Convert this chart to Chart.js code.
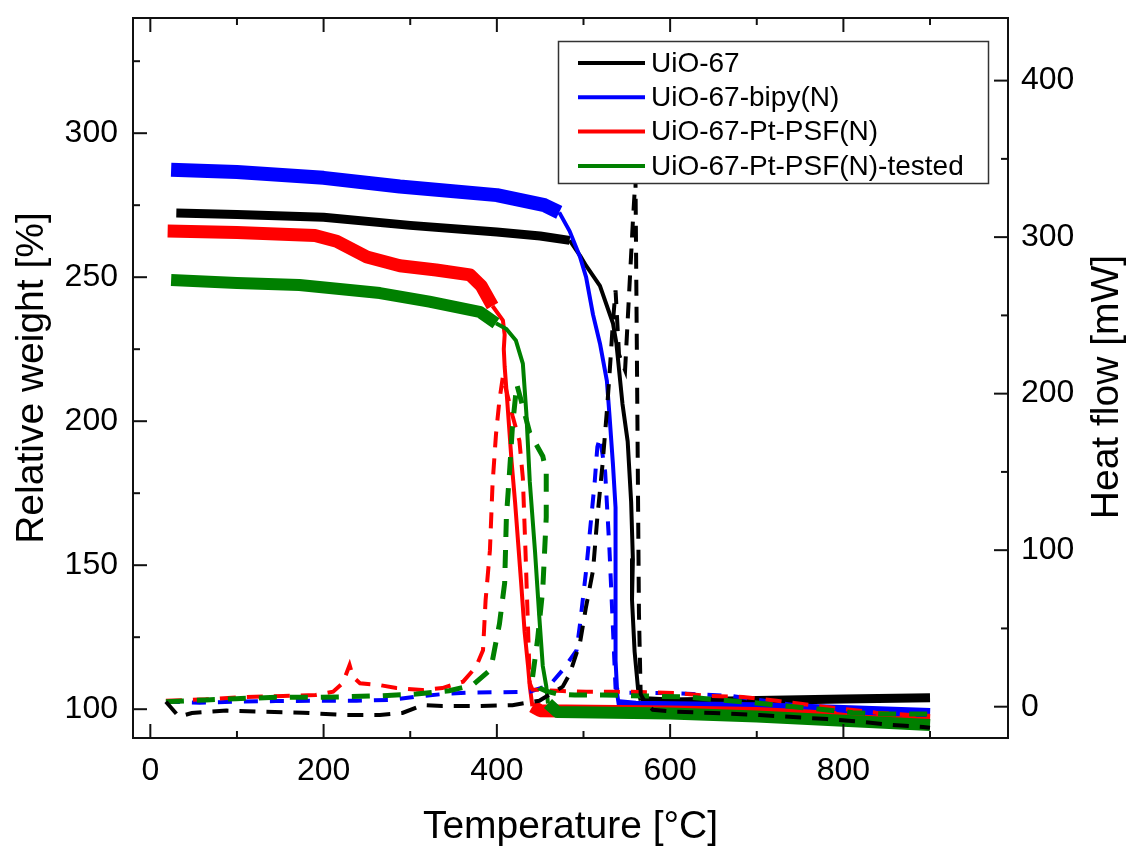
<!DOCTYPE html>
<html>
<head>
<meta charset="utf-8">
<script src="https://cdn.jsdelivr.net/npm/chart.js@4.4.1/dist/chart.umd.min.js"></script>
<style>
  html, body { margin: 0; padding: 0; background: #fff; }
  #wrap { width: 1128px; height: 846px; }
</style>
</head>
<body>
<div id="wrap"><canvas id="tgaChart" width="1128" height="846"></canvas></div>
<script>
// samples (legend order)
const sampleNames = ['UiO-67', 'UiO-67-bipy(N)', 'UiO-67-Pt-PSF(N)', 'UiO-67-Pt-PSF(N)-tested'];

// tick labels
const xTicks = [0, 200, 400, 600, 800];
const xMinor = [100, 300, 500, 700, 900];
const weightTicks = [100, 150, 200, 250, 300];
const weightMinor = [125, 175, 225, 275, 325];
const heatTicks = [0, 100, 200, 300, 400];
const heatMinor = [50, 150, 250, 350];

// TGA - relative weight [%] (left axis)
const tgaTempUiO = [30, 100, 200, 300, 400, 450, 484, 496, 503, 519, 534, 538, 545, 551, 555, 557, 556, 559, 563, 566, 600, 700, 800, 900];
const tgaWeightUiO = [272.3, 271.8, 270.8, 268, 265.7, 264.3, 262.8, 257.5, 254, 247, 234, 227, 206, 193, 172, 152, 138, 120, 107, 103, 102.5, 103, 103.5, 104];

const tgaTempBipy = [24, 100, 200, 288, 400, 455, 472, 484, 496, 503, 511, 519, 527, 530, 534, 537, 537, 537, 539, 541, 560, 700, 800, 900];
const tgaWeightBipy = [287.3, 286.5, 284.5, 281.5, 278.5, 275, 272.5, 266, 257, 250, 237, 227, 214, 202, 185, 170, 142, 117, 105, 101, 100.5, 100, 99, 98];

const tgaTempPt = [20, 100, 190, 215, 250, 288, 330, 369, 382, 395, 407, 409, 408, 409, 412, 417, 421, 428, 432, 436, 438, 441, 450, 600, 700, 800, 900];
const tgaWeightPt = [266, 265.5, 264.5, 262.5, 257, 254, 252.5, 250.8, 247, 240, 235, 230, 225, 219, 207, 186, 172, 144, 127, 115, 108, 101, 99.5, 99, 98.5, 97, 96];

const tgaTempTested = [24, 100, 172, 265, 322, 380, 399, 411, 422, 430, 434, 438, 444, 449, 453, 457, 459, 470, 600, 700, 800, 900];
const tgaWeightTested = [249, 248, 247.3, 244.5, 241.5, 238, 234, 232, 228, 220, 203, 179, 155, 132, 115, 108, 102, 99, 98.5, 97.5, 96, 94.5];

// DSC - heat flow [mW] (right axis)
const dscTempUiO = [18, 33, 48, 88, 130, 176, 222, 265, 291, 314, 337, 380, 418, 449, 476, 484, 496, 503, 511, 516, 522, 527, 530, 534, 537, 541, 548, 557, 560, 562, 564, 566, 570, 580, 607, 650, 703, 742, 781, 819, 857, 892, 900];
const dscHeatUiO = [3.2, -6.4, -4, -2.5, -3.2, -3.8, -5.3, -5.3, -4, 1, 0.4, 0.4, 1, 3.8, 12.8, 20.8, 41, 64, 87, 121, 155, 189, 212, 246, 266, 225, 215, 310, 338, 200, 60, 8, 4, -2, -3.2, -4, -5.3, -6.6, -7.9, -9.6, -11.7, -13, -13.5];

const dscTempBipy = [18, 57, 98, 145, 191, 238, 276, 307, 338, 368, 399, 438, 461, 476, 492, 496, 503, 509, 513, 516, 519, 525, 530, 534, 537, 545, 596, 626, 672, 703, 742, 781, 819, 857, 896];
const dscHeatBipy = [3.2, 2.6, 3.2, 3.6, 3.8, 3.8, 4.3, 6.4, 8.1, 9, 9.2, 9.6, 13.8, 23.4, 36, 52.8, 86.8, 121, 144, 166, 172, 150, 100, 50, 12, 9, 8.7, 8.1, 6.8, 4.3, 1.1, -1.5, -3.8, -4.7, -5.3];

const dscTempPt = [18, 64, 106, 153, 191, 211, 222, 230, 234, 242, 265, 284, 314, 337, 361, 376, 384, 387, 392, 395, 399, 403, 407, 418, 426, 430, 433, 436, 438, 441, 453, 476, 503, 549, 607, 646, 684, 723, 761, 800, 838, 877, 900];
const dscHeatPt = [3.8, 4.7, 6.2, 6.8, 7.5, 9.6, 15, 26.6, 19, 15, 13.8, 11.9, 10.6, 11.9, 16, 25.5, 36, 68, 100, 142, 174, 196, 211, 186, 170, 146, 100, 50, 15, 11, 10.6, 10, 9.6, 9.6, 8.7, 6.8, 6.2, 3.8, 1.1, -1.5, -3.8, -5.3, -5.8];

const dscTempTested = [18, 64, 99, 145, 191, 230, 268, 307, 345, 372, 392, 395, 403, 409, 411, 415, 418, 423, 438, 453, 457, 457, 453, 447, 441, 449, 457, 470, 490, 522, 573, 619, 657, 695, 734, 771, 811, 850, 886, 900];
const dscHeatTested = [3.2, 4.3, 5.1, 6, 6, 6.4, 7, 8.1, 10.2, 13.8, 23.4, 29.8, 53, 79, 121, 153, 179, 206, 175, 160, 150, 121, 75, 43, 18, 12, 10, 8.1, 7.5, 7.5, 6.8, 6.2, 4.3, 2.6, 0.4, -1.5, -3.8, -4.7, -4.7, -4.7];

const colors = ['#000000', '#0000ff', '#ff0000', '#008000'];

function pts(xs, ys) {
  return xs.map((x, i) => ({ x: x, y: ys[i] }));
}

// noisy TGA parts drawn as a thick band, the decomposition step as a thin line
function tgaSet(i, xs, ys, bandEnd, tailStart, bandW, order) {
  return {
    label: sampleNames[i],
    data: pts(xs, ys),
    yAxisID: 'y',
    borderColor: colors[i],
    borderWidth: 4,
    borderJoinStyle: 'round',
    order: order,
    segment: {
      borderWidth: c => (c.p1.parsed.x <= bandEnd || c.p0.parsed.x >= tailStart) ? bandW : 4
    }
  };
}

function dscSet(i, xs, ys, width, dash, order) {
  return {
    label: sampleNames[i] + ' DSC',
    data: pts(xs, ys),
    yAxisID: 'y2',
    borderColor: colors[i],
    borderWidth: width,
    borderDash: dash,
    order: order
  };
}

const datasets = [
  tgaSet(0, tgaTempUiO, tgaWeightUiO, 484, 566, 9, 8),
  tgaSet(1, tgaTempBipy, tgaWeightBipy, 472, 541, 14, 7),
  tgaSet(2, tgaTempPt, tgaWeightPt, 395, 441, 13, 6),
  tgaSet(3, tgaTempTested, tgaWeightTested, 399, 459, 12, 5),
  dscSet(1, dscTempBipy, dscHeatBipy, 4, [14, 12], 4),
  dscSet(2, dscTempPt, dscHeatPt, 4, [16, 11], 3),
  dscSet(3, dscTempTested, dscHeatTested, 5, [18, 13], 2),
  dscSet(0, dscTempUiO, dscHeatUiO, 4, [16, 11], 1)
];

const FONT = "'Liberation Sans', Arial, sans-serif";
Chart.defaults.font.family = FONT;
Chart.defaults.color = '#000';

function fixTicks(list) {
  return scale => { scale.ticks = list.map(v => ({ value: v })); };
}

// frame and inward tick marks
const frameTicks = {
  id: 'frameTicks',
  afterDatasetsDraw(chart) {
    const { ctx, chartArea: a, scales } = chart;
    ctx.save();
    ctx.strokeStyle = '#111';
    ctx.lineWidth = 2;
    const seg = (x1, y1, x2, y2) => { ctx.beginPath(); ctx.moveTo(x1, y1); ctx.lineTo(x2, y2); ctx.stroke(); };
    ctx.strokeRect(a.left, a.top, a.right - a.left, a.bottom - a.top);
    const xs = (list, len) => list.forEach(v => {
      const p = scales.x.getPixelForValue(v);
      seg(p, a.bottom, p, a.bottom - len);
      seg(p, a.top, p, a.top + len);
    });
    xs(xTicks, 14); xs(xMinor, 7);
    const yl = (list, len) => list.forEach(v => {
      const p = scales.y.getPixelForValue(v);
      seg(a.left, p, a.left + len, p);
    });
    yl(weightTicks, 14); yl(weightMinor, 7);
    const yr = (list, len) => list.forEach(v => {
      const p = scales.y2.getPixelForValue(v);
      seg(a.right, p, a.right - len, p);
    });
    yr(heatTicks, 14); yr(heatMinor, 7);
    ctx.restore();
  }
};

// boxed legend inside the plot + right axis title (reads bottom to top)
const boxLegend = {
  id: 'boxLegend',
  afterDraw(chart) {
    const { ctx, chartArea: a } = chart;
    const bx = a.right - 450, by = a.top + 23, bw = 430, bh = 142;
    ctx.save();
    ctx.fillStyle = '#fff';
    ctx.fillRect(bx, by, bw, bh);
    ctx.strokeStyle = '#333';
    ctx.lineWidth = 1.5;
    ctx.strokeRect(bx + 0.5, by + 0.5, bw, bh);
    ctx.font = '28px ' + FONT;
    ctx.textBaseline = 'middle';
    sampleNames.forEach((name, i) => {
      const y = by + 22 + i * 34.3;
      ctx.strokeStyle = colors[i];
      ctx.lineWidth = 4;
      ctx.beginPath(); ctx.moveTo(bx + 20, y); ctx.lineTo(bx + 87, y); ctx.stroke();
      ctx.fillStyle = '#000';
      ctx.fillText(name, bx + 93, y + 1);
    });
    ctx.restore();

    ctx.save();
    ctx.translate(a.right + 99, (a.top + a.bottom) / 2 + 9);
    ctx.rotate(-Math.PI / 2);
    ctx.font = '39px ' + FONT;
    ctx.fillStyle = '#000';
    ctx.textAlign = 'center';
    ctx.textBaseline = 'middle';
    ctx.fillText('Heat flow [mW]', 0, 0);
    ctx.restore();
  }
};

function noPadV(s) { s.paddingTop = 0; s.paddingBottom = 0; }

new Chart(document.getElementById('tgaChart'), {
  type: 'line',
  data: { datasets: datasets },
  options: {
    responsive: false,
    animation: false,
    layout: { padding: { top: 18, left: 0, right: 0, bottom: 0 } },
    elements: { point: { radius: 0 }, line: { tension: 0, borderCapStyle: 'butt' } },
    plugins: { legend: { display: false }, tooltip: { enabled: false } },
    scales: {
      x: {
        type: 'linear', position: 'bottom', min: -20, max: 990,
        grid: { display: false, drawTicks: false }, border: { display: false },
        ticks: { font: { size: 32 }, padding: 14, maxRotation: 0, autoSkip: false },
        afterBuildTicks: fixTicks(xTicks),
        afterFit: s => { s.height = 108; s.paddingLeft = 0; s.paddingRight = 0; },
        title: { display: true, text: 'Temperature [°C]', font: { size: 39, lineHeight: 0.9 }, padding: { top: 0, bottom: 1 } }
      },
      y: {
        type: 'linear', position: 'left', min: 90, max: 340,
        grid: { display: false, drawTicks: false }, border: { display: false },
        ticks: { font: { size: 32 }, padding: 15 },
        afterBuildTicks: fixTicks(weightTicks),
        afterFit: s => { s.width = 133; noPadV(s); },
        title: { display: true, text: 'Relative weight [%]', font: { size: 39, lineHeight: 1.2 }, padding: { top: 9, bottom: 0 } }
      },
      y2: {
        type: 'linear', position: 'right', min: -20, max: 440,
        grid: { display: false, drawTicks: false }, border: { display: false },
        ticks: { font: { size: 32 }, padding: 13 },
        afterBuildTicks: fixTicks(heatTicks),
        afterFit: s => { s.width = 120; noPadV(s); }
      }
    }
  },
  plugins: [frameTicks, boxLegend]
});
</script>
</body>
</html>
